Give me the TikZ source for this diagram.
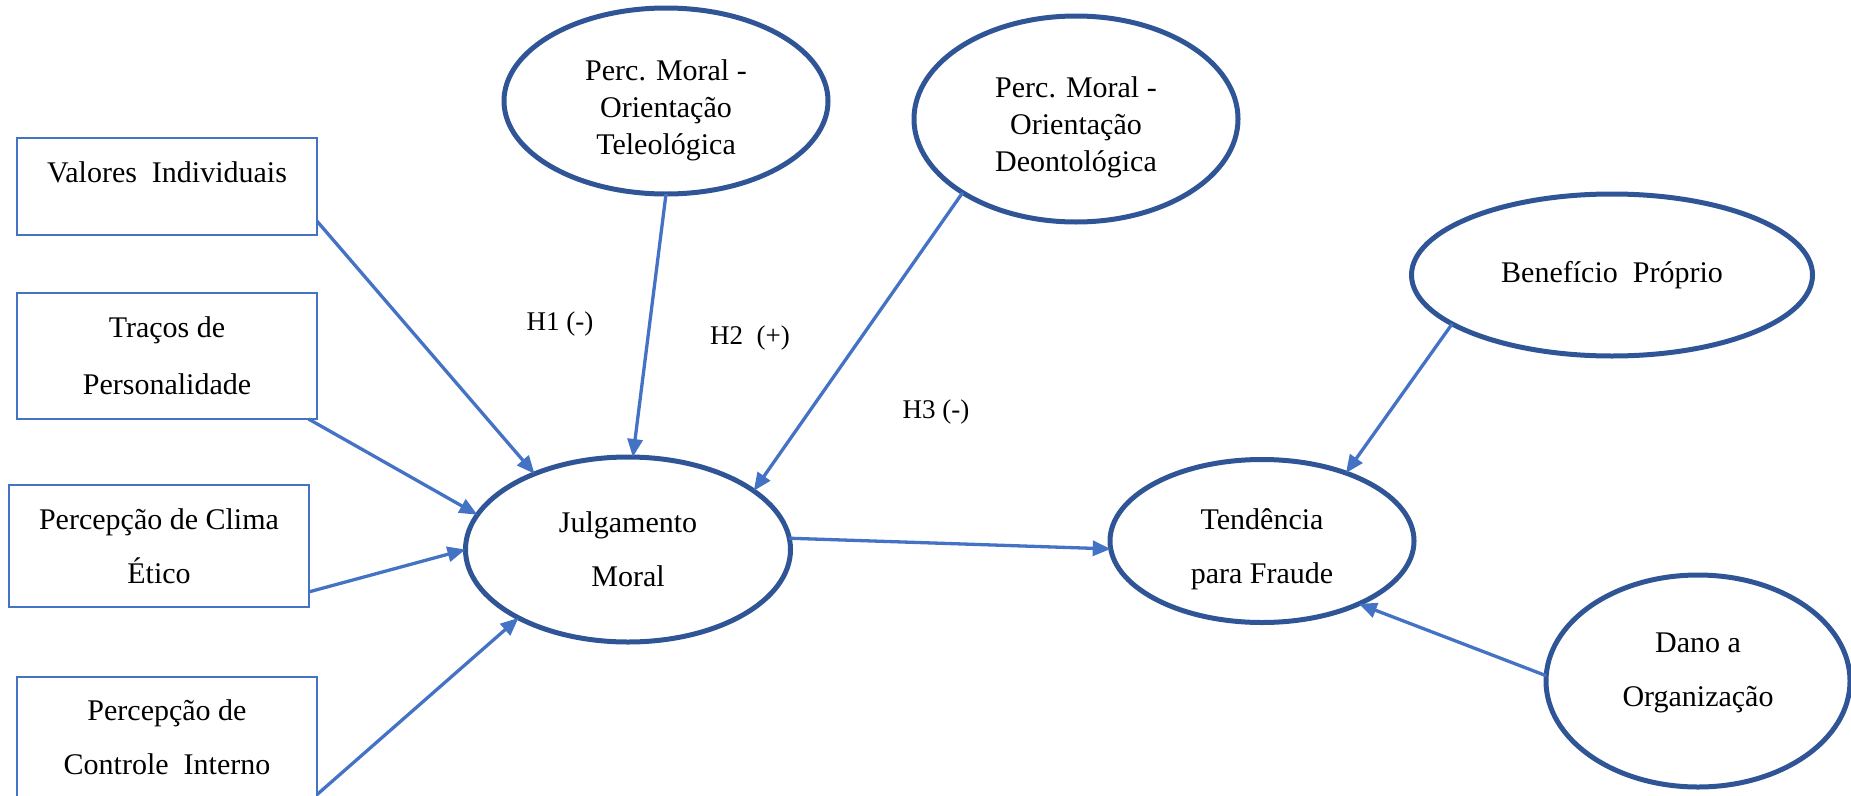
\documentclass[tikz,border=0pt]{standalone}
\usepackage{fontspec}
\setmainfont{Liberation Serif}
\usetikzlibrary{shapes.geometric,arrows.meta}
\definecolor{linkblue}{HTML}{4472C4}
\definecolor{ovalblue}{HTML}{2F5597}
\begin{document}
\begin{tikzpicture}[x=1pt,y=-1pt,
  every node/.style={font=\fontsize{30}{54}\selectfont, align=center, inner sep=0pt, outer sep=0pt},
  factor/.style={draw=linkblue, line width=2.8pt, rectangle},
  construct/.style={draw=ovalblue, line width=5pt, ellipse},
  tight/.style={font=\fontsize{30}{37}\selectfont},
  link/.style={draw=linkblue, line width=3.3pt, -{Triangle[length=18pt,width=15pt]}},
  hyp/.style={font=\fontsize{27}{30}\selectfont}
]
\useasboundingbox (0,0) rectangle (1851,795);
\clip (0,0) rectangle (1851,795);

% antecedent factors (left column)
\node[factor, minimum width=300pt, minimum height=97pt, text depth=28pt] (valores) at (167,186.5) {Valores\ \ Individuais};
\node[factor, minimum width=300pt, minimum height=126pt, font=\fontsize{30}{57}\selectfont] (tracos) at (167,356) {Traços de\\Personalidade};
\node[factor, minimum width=300pt, minimum height=122pt] (clima) at (159,546) {Percepção de Clima\\Ético};
\node[factor, minimum width=300pt, minimum height=120pt] (controle) at (167,737) {Percepção de\\Controle\ \ Interno};

% latent constructs (the label carries the text, set slightly off centre)
\node[construct, minimum width=324pt, minimum height=186pt,
      label={[tight, yshift=-9pt]center:{Perc. Moral -\\Orientação\\Teleológica}}] (teleo) at (666,101) {};
\node[construct, minimum width=324pt, minimum height=206pt,
      label={[tight, yshift=-8pt]center:{Perc. Moral -\\Orientação\\Deontológica}}] (deonto) at (1076,119) {};
\node[construct, minimum width=325pt, minimum height=185pt] (julg) at (628,549.5) {Julgamento\\Moral};
\node[construct, minimum width=304pt, minimum height=163pt,
      label={[yshift=-8pt]center:{Tendência\\para Fraude}}] (tend) at (1262,541) {};
\node[construct, minimum width=401pt, minimum height=162pt] (benef) at (1612,275) {Benefício\ \ Próprio};
\node[construct, minimum width=304pt, minimum height=212pt,
      label={[yshift=8pt]center:{Dano a\\Organização}}] (dano) at (1698,681) {};

% hypothesis labels
\node[hyp] (h1) at (560,324) {H1 (-)};
\node[hyp] (h2) at (750,338) {H2\ \ (+)};
\node[hyp] (h3) at (936,412) {H3 (-)};

% paths
\draw[link] (valores.-13) -- (julg.141);
\draw[link] (tracos.-24.2) -- (julg.167.7);
\draw[link] (clima.-17.4) -- (julg.180);
\draw[link] (controle.-21.1) -- (julg.212.4);
\draw[link] (teleo.270) -- (julg.87);
\draw[link] (deonto.213.7) -- (julg.25);
\draw[link] (julg.4) -- (tend.183);
\draw[link] (benef.197.8) -- (tend.39.5);
\draw[link] (dano.178) -- (tend.-33.6);
\end{tikzpicture}
\end{document}
